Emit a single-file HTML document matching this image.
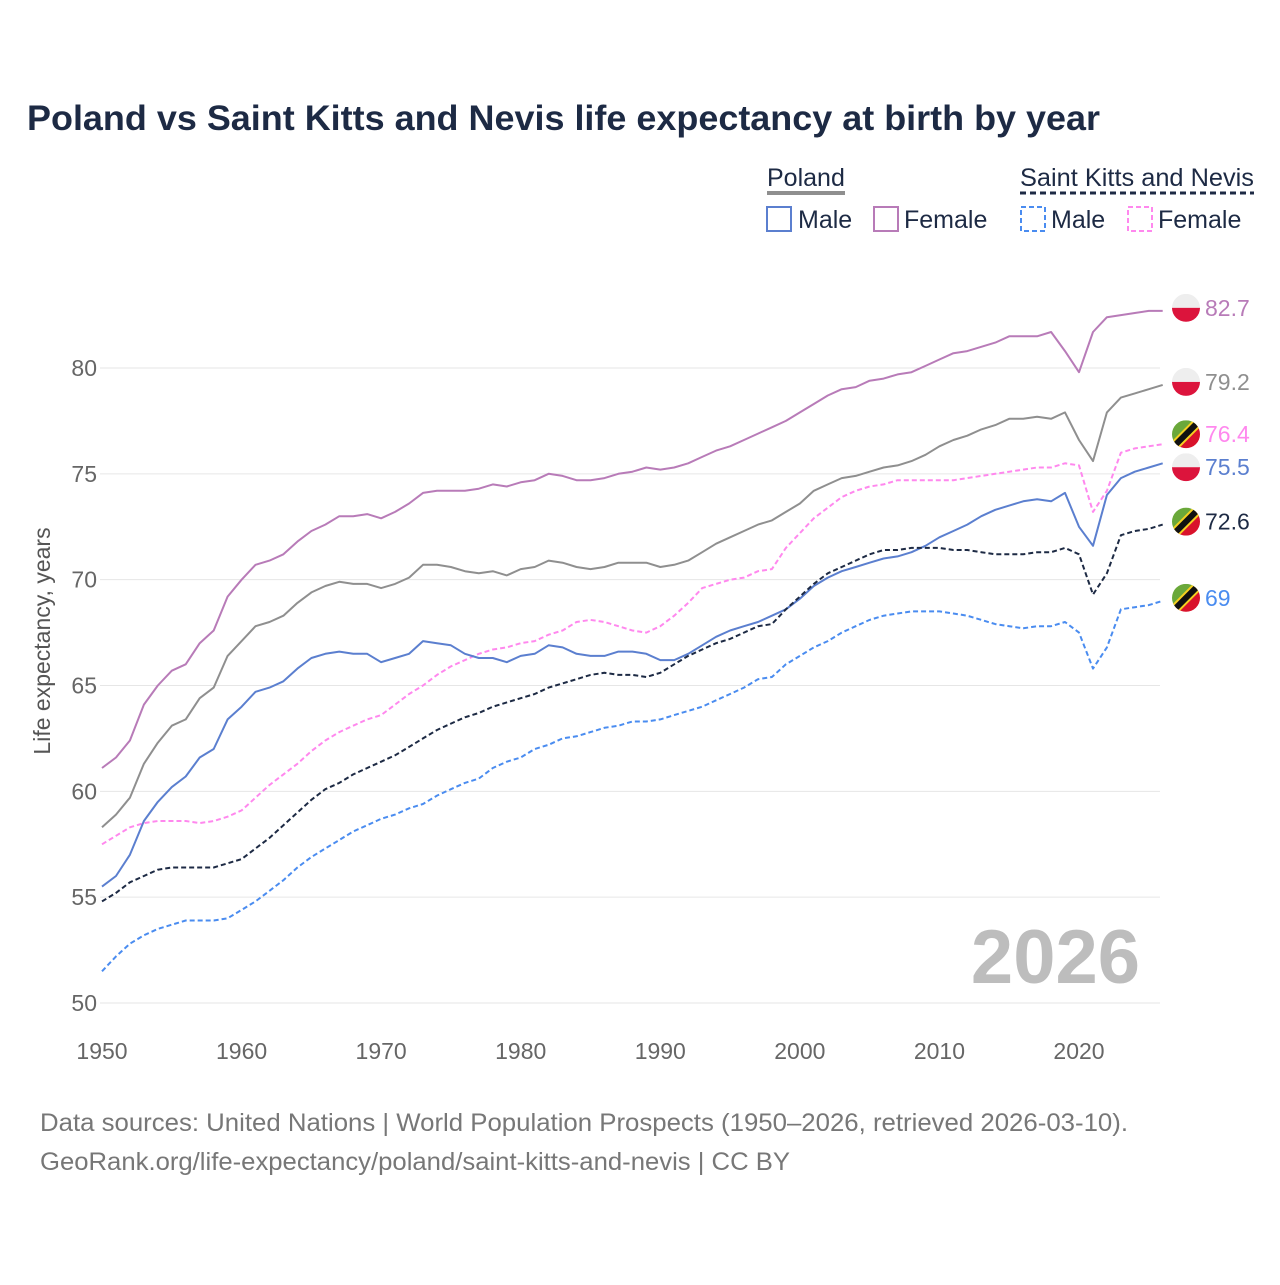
<!DOCTYPE html>
<html><head><meta charset="utf-8">
<style>
body{margin:0;background:#fff;font-family:"Liberation Sans",sans-serif;}
svg text{font-family:"Liberation Sans",sans-serif;}
</style></head>
<body>
<svg id="chart" width="1280" height="1280" viewBox="0 0 1280 1280" xmlns="http://www.w3.org/2000/svg">
<rect width="1280" height="1280" fill="#fff"/>
<text x="27" y="130" font-size="35" font-weight="bold" fill="#1d2a44" textLength="1073" lengthAdjust="spacingAndGlyphs">Poland vs Saint Kitts and Nevis life expectancy at birth by year</text>
<g font-size="25" fill="#1d2a44">
<text x="767" y="186" fill="#1d2a44">Poland</text>
<line x1="767" y1="193" x2="845" y2="193" stroke="#8f8f8f" stroke-width="4"/>
<text x="1020" y="186" textLength="234" lengthAdjust="spacingAndGlyphs">Saint Kitts and Nevis</text>
<line x1="1020" y1="193" x2="1254" y2="193" stroke="#1d2a44" stroke-width="3" stroke-dasharray="6,4"/>
<g><rect x="767" y="207" width="24" height="24" fill="none" stroke="#5b7fcf" stroke-width="2"/><text x="798" y="228">Male</text></g>
<g><rect x="874" y="207" width="24" height="24" fill="none" stroke="#b87bb8" stroke-width="2"/><text x="904" y="228">Female</text></g>
<g><rect x="1021" y="207" width="24" height="24" fill="none" stroke="#4a8cf0" stroke-width="2" stroke-dasharray="5,3"/><text x="1051" y="228">Male</text></g>
<g><rect x="1128" y="207" width="24" height="24" fill="none" stroke="#ff88ee" stroke-width="2" stroke-dasharray="5,3"/><text x="1158" y="228">Female</text></g>
</g>
<g id="grid"></g>
<text x="1140" y="983" font-size="76" font-weight="bold" fill="#bdbdbd" text-anchor="end">2026</text>
<g id="series"></g>
<g id="labels"></g>
<text transform="translate(50,641) rotate(-90)" font-size="23" fill="#555" text-anchor="middle">Life expectancy, years</text>
<text x="40" y="1131" font-size="25" fill="#777" textLength="1088" lengthAdjust="spacingAndGlyphs">Data sources: United Nations | World Population Prospects (1950–2026, retrieved 2026-03-10).</text>
<text x="40" y="1170" font-size="25" fill="#777" textLength="750" lengthAdjust="spacingAndGlyphs">GeoRank.org/life-expectancy/poland/saint-kitts-and-nevis | CC BY</text>
</svg>
<script>
const startYear = 1950;
const yTicks = [50,55,60,65,70,75,80];
const xTicks = [1950,1960,1970,1980,1990,2000,2010,2020];
const polandFemale = [61.1,61.6,62.4,64.1,65.0,65.7,66.0,67.0,67.6,69.2,70.0,70.7,70.9,71.2,71.8,72.3,72.6,73.0,73.0,73.1,72.9,73.2,73.6,74.1,74.2,74.2,74.2,74.3,74.5,74.4,74.6,74.7,75.0,74.9,74.7,74.7,74.8,75.0,75.1,75.3,75.2,75.3,75.5,75.8,76.1,76.3,76.6,76.9,77.2,77.5,77.9,78.3,78.7,79.0,79.1,79.4,79.5,79.7,79.8,80.1,80.4,80.7,80.8,81.0,81.2,81.5,81.5,81.5,81.7,80.8,79.8,81.7,82.4,82.5,82.6,82.7,82.7];
const polandTotal = [58.3,58.9,59.7,61.3,62.3,63.1,63.4,64.4,64.9,66.4,67.1,67.8,68.0,68.3,68.9,69.4,69.7,69.9,69.8,69.8,69.6,69.8,70.1,70.7,70.7,70.6,70.4,70.3,70.4,70.2,70.5,70.6,70.9,70.8,70.6,70.5,70.6,70.8,70.8,70.8,70.6,70.7,70.9,71.3,71.7,72.0,72.3,72.6,72.8,73.2,73.6,74.2,74.5,74.8,74.9,75.1,75.3,75.4,75.6,75.9,76.3,76.6,76.8,77.1,77.3,77.6,77.6,77.7,77.6,77.9,76.6,75.6,77.9,78.6,78.8,79.0,79.2];
const polandMale = [55.5,56.0,57.0,58.6,59.5,60.2,60.7,61.6,62.0,63.4,64.0,64.7,64.9,65.2,65.8,66.3,66.5,66.6,66.5,66.5,66.1,66.3,66.5,67.1,67.0,66.9,66.5,66.3,66.3,66.1,66.4,66.5,66.9,66.8,66.5,66.4,66.4,66.6,66.6,66.5,66.2,66.2,66.5,66.9,67.3,67.6,67.8,68.0,68.3,68.6,69.1,69.7,70.1,70.4,70.6,70.8,71.0,71.1,71.3,71.6,72.0,72.3,72.6,73.0,73.3,73.5,73.7,73.8,73.7,74.1,72.5,71.6,74.0,74.8,75.1,75.3,75.5];
const sknFemale = [57.5,57.9,58.3,58.5,58.6,58.6,58.6,58.5,58.6,58.8,59.1,59.7,60.3,60.8,61.3,61.9,62.4,62.8,63.1,63.4,63.6,64.1,64.6,65.0,65.5,65.9,66.2,66.5,66.7,66.8,67.0,67.1,67.4,67.6,68.0,68.1,68.0,67.8,67.6,67.5,67.8,68.3,68.9,69.6,69.8,70.0,70.1,70.4,70.5,71.5,72.2,72.9,73.4,73.9,74.2,74.4,74.5,74.7,74.7,74.7,74.7,74.7,74.8,74.9,75.0,75.1,75.2,75.3,75.3,75.5,75.4,73.2,74.2,76.0,76.2,76.3,76.4];
const sknTotal = [54.8,55.2,55.7,56.0,56.3,56.4,56.4,56.4,56.4,56.6,56.8,57.3,57.8,58.4,59.0,59.6,60.1,60.4,60.8,61.1,61.4,61.7,62.1,62.5,62.9,63.2,63.5,63.7,64.0,64.2,64.4,64.6,64.9,65.1,65.3,65.5,65.6,65.5,65.5,65.4,65.6,66.0,66.4,66.7,67.0,67.2,67.5,67.8,67.9,68.6,69.2,69.8,70.3,70.6,70.9,71.2,71.4,71.4,71.5,71.5,71.5,71.4,71.4,71.3,71.2,71.2,71.2,71.3,71.3,71.5,71.2,69.3,70.3,72.1,72.3,72.4,72.6];
const sknMale = [51.5,52.2,52.8,53.2,53.5,53.7,53.9,53.9,53.9,54.0,54.4,54.8,55.3,55.8,56.4,56.9,57.3,57.7,58.1,58.4,58.7,58.9,59.2,59.4,59.8,60.1,60.4,60.6,61.1,61.4,61.6,62.0,62.2,62.5,62.6,62.8,63.0,63.1,63.3,63.3,63.4,63.6,63.8,64.0,64.3,64.6,64.9,65.3,65.4,66.0,66.4,66.8,67.1,67.5,67.8,68.1,68.3,68.4,68.5,68.5,68.5,68.4,68.3,68.1,67.9,67.8,67.7,67.8,67.8,68.0,67.5,65.8,66.8,68.6,68.7,68.8,69.0];
const endLabels = ["82.7","79.2","76.4","75.5","72.6","69"];

const NS="http://www.w3.org/2000/svg";
function xs(yr){return 102+(yr-1950)*(1079-102)/70;}
function ys(v){return 1003-(v-50)*(1003-368)/30;}
function mk(tag,attrs,parent){const e=document.createElementNS(NS,tag);for(const k in attrs)e.setAttribute(k,attrs[k]);parent.appendChild(e);return e;}
const grid=document.getElementById('grid');
yTicks.forEach(t=>{
  const l=mk('line',{x1:100,x2:1160,y1:ys(t),y2:ys(t),stroke:'#e6e6e6','stroke-width':1},grid);
  
  
  const tx=mk('text',{x:97,y:ys(t)+8,'font-size':23,fill:'#666','text-anchor':'end'},grid);
  tx.textContent=t;
  
  
});
xTicks.forEach(t=>{
  const tx=mk('text',{x:xs(t),y:1059,'font-size':23,fill:'#666','text-anchor':'middle'},grid);
  tx.textContent=t;
  
  
});
const seriesDefs=[
 [polandFemale,'#b87bb8',null,'poland-female-line','poland'],
 [polandTotal,'#8f8f8f',null,'poland-total-line','poland'],
 [sknFemale,'#ff88ee','5,3','skn-female-line','skn'],
 [polandMale,'#5b7fcf',null,'poland-male-line','poland'],
 [sknTotal,'#1d2a44','5,3','skn-total-line','skn'],
 [sknMale,'#4a8cf0','5,3','skn-male-line','skn']
];
// label positions with simple collision avoidance
const labY=seriesDefs.map(s=>ys(s[0][s[0].length-1])-3);
const gap=33;
for(let iter=0;iter<10;iter++){
  for(let i=0;i<labY.length-1;i++){
    if(labY[i+1]-labY[i]<gap){const m=(labY[i]+labY[i+1])/2;labY[i]=m-gap/2;labY[i+1]=m+gap/2;}
  }
}
const sg=document.getElementById('series');
const lg=document.getElementById('labels');
seriesDefs.forEach((s,i)=>{
  const pts=s[0].map((v,j)=>xs(startYear+j).toFixed(1)+','+ys(v).toFixed(1)).join(' ');
  const a={points:pts,fill:'none',stroke:s[1],'stroke-width':2,'stroke-linejoin':'round'};
  if(s[2])a['stroke-dasharray']=s[2];
  const p=mk('polyline',a,sg);
  
  
  const cy=labY[i], cx=1186;
  const g=mk('g',{},lg);
  
  
  const cid='c'+i;
  const cp=mk('clipPath',{id:cid},g);mk('circle',{cx:cx,cy:cy,r:14},cp);
  const fg=mk('g',{'clip-path':'url(#'+cid+')'},g);
  if(s[4]==='poland'){
    mk('rect',{x:cx-14,y:cy-14,width:28,height:14,fill:'#eeeeee'},fg);
    mk('rect',{x:cx-14,y:cy,width:28,height:14,fill:'#dc143c'},fg);
  }else{
    mk('polygon',{points:(cx-14)+','+(cy-14)+' '+(cx+14)+','+(cy-14)+' '+(cx-14)+','+(cy+14),fill:'#6aa83a'},fg);
    mk('polygon',{points:(cx+14)+','+(cy-14)+' '+(cx+14)+','+(cy+14)+' '+(cx-14)+','+(cy+14),fill:'#d9122b'},fg);
    mk('line',{x1:cx-14,y1:cy+14,x2:cx+14,y2:cy-14,stroke:'#f5d020','stroke-width':10},fg);
    mk('line',{x1:cx-14,y1:cy+14,x2:cx+14,y2:cy-14,stroke:'#111','stroke-width':6},fg);
  }
  const t=mk('text',{x:1205,y:cy+8,'font-size':23,fill:s[1]},lg);
  t.textContent=endLabels[i];
  
  
});
</script>
</body></html>
